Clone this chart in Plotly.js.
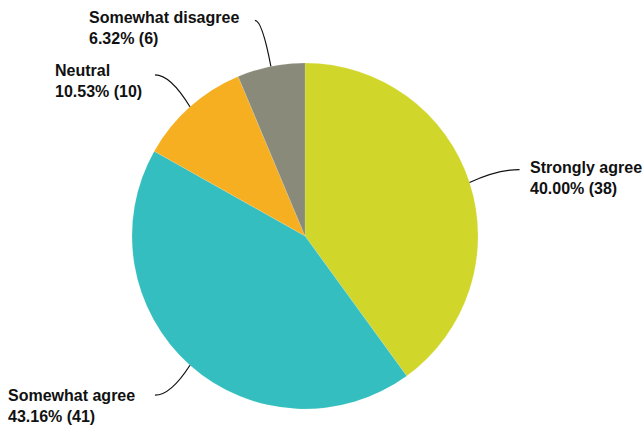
<!DOCTYPE html>
<html><head><meta charset="utf-8">
<script src="https://cdn.plot.ly/plotly-3.0.1.min.js"></script>
<style>html,body{margin:0;padding:0;background:#fff}#chart{width:643px;height:431px}</style>
</head><body><div id="chart"></div>
<script>
const categories = ["Strongly agree", "Somewhat agree", "Neutral", "Somewhat disagree"];
const counts = [38, 41, 10, 6];
const colors = ["#D0D62A", "#34BEBF", "#F5AF21", "#8A8A7A"];

// layout-only settings (pixels)
const W = 643, H = 431;
const cx = 305, cy = 236, R = 173;
const leaderOffsets = [[50, -13], [-35, 30], [-35, -32], [-16, -46]];
const textGaps = [8, 18, 11, 14];
const textDy = [-2, 0, -4, -3];

const total = counts.reduce((a, b) => a + b, 0);
const px2x = x => x / W, px2y = y => 1 - y / H;

const shapes = [], annotations = [];
let acc = 0;
counts.forEach((v, i) => {
  const mid = (acc + v / 2) / total * 2 * Math.PI;
  acc += v;
  const sx = cx + R * Math.sin(mid), sy = cy - R * Math.cos(mid);
  const ex = sx + leaderOffsets[i][0], ey = sy + leaderOffsets[i][1];
  const qx = sx + (ex - sx) * 0.55, qy = ey;
  shapes.push({
    type: 'path', xref: 'paper', yref: 'paper',
    path: `M ${px2x(sx)},${px2y(sy)} Q ${px2x(qx)},${px2y(qy)} ${px2x(ex)},${px2y(ey)}`,
    line: {color: '#111', width: 1.2}
  });
  const right = ex > sx;
  const pct = (v / total * 100).toFixed(2);
  annotations.push({
    xref: 'paper', yref: 'paper',
    x: px2x(right ? ex + textGaps[i] : ex - textGaps[i]),
    y: px2y(ey + textDy[i] - 10.5),
    xanchor: right ? 'left' : 'right', yanchor: 'top', align: 'left',
    showarrow: false,
    text: '<b>' + categories[i] + '</b><br><b>' + pct + '% (' + v + ')</b>',
    font: {family: '"Liberation Sans", Arial, sans-serif', size: 16, color: '#111'}
  });
});

const data = [{
  type: 'pie', labels: categories, values: counts, sort: false,
  direction: 'clockwise', rotation: 0,
  marker: {colors: colors, line: {color: 'rgba(255,255,255,0.4)', width: 0.3}},
  textinfo: 'none', hoverinfo: 'label+percent+value',
  domain: {x: [(cx - R) / W, (cx + R) / W], y: [1 - (cy + R) / H, 1 - (cy - R) / H]}
}];

Plotly.newPlot('chart', data, {
  width: W, height: H, margin: {l: 0, r: 0, t: 0, b: 0},
  showlegend: false, paper_bgcolor: '#fff',
  shapes: shapes, annotations: annotations
}, {displayModeBar: false, staticPlot: true});
</script></body></html>
